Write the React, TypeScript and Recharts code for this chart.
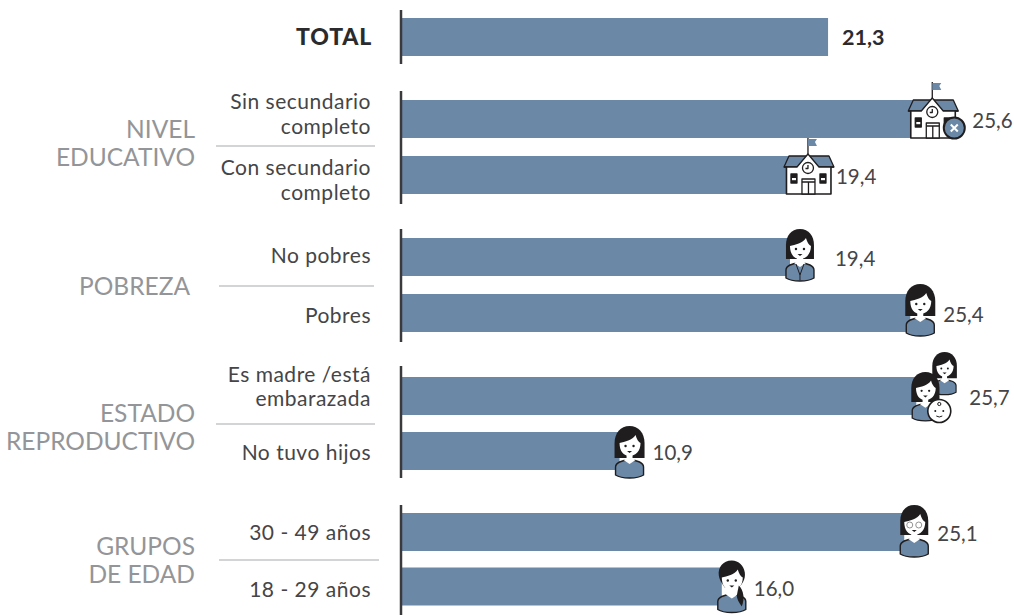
import React from "react";
import { BarChart, Bar, XAxis, YAxis, LabelList } from "recharts";

// filas de cada bloque, de arriba hacia abajo
const totalRows = ["TOTAL"];
const educacionRows = ["Sin secundario|completo", "Con secundario|completo"];
const pobrezaRows = ["No pobres", "Pobres"];
const reproductivoRows = ["Es madre /está|embarazada", "No tuvo hijos"];
const edadRows = ["30 - 49 años", "18 - 29 años"];

const totalValues = [21.3];
const educacionValues = [25.6, 19.4];
const pobrezaValues = [19.4, 25.4];
const reproductivoValues = [25.7, 10.9];
const edadValues = [25.1, 16.0];

const educacionTitle = ["NIVEL", "EDUCATIVO"];
const pobrezaTitle = ["POBREZA"];
const reproductivoTitle = ["ESTADO", "REPRODUCTIVO"];
const edadTitle = ["GRUPOS", "DE EDAD"];

const educacionIcons = ["schoolX", "school"];
const pobrezaIcons = ["suit", "plain"];
const reproductivoIcons = ["mother", "young"];
const edadIcons = ["glasses", "braid"];

const FONT = "Lato, 'Noto Sans', sans-serif";
const BAR = "#6c88a7";
const INK = "#1f1d1e";
const TEXT = "#454547";
const GREY = "#939598";
const AXIS_LEFT = 401;
const PX_PER_UNIT = 20.05;
const WIDTH = 1014;

const fmt = (v: number) => v.toFixed(1).replace(".", ",");

const School = ({ x, y, cross }: { x: number; y: number; cross?: boolean }) => (
    <g transform={`translate(${x},${y})`} stroke={INK} strokeWidth={1.3} strokeLinejoin="round">
        <path d="M24 8V-10" fill="none" />
        <path d="M24 -9H33L31 -6L33 -2H24Z" fill={BAR} stroke="none" />
        <path d="M0 19L5 8H45L50 19Z" fill={BAR} />
        <path d="M2.5 19V46H47V19" fill="#fff" strokeWidth={1.6} />
        <path d="M13 19L24 6L35 19V30H13Z" fill="#fff" stroke="none" />
        <path d="M0 19H13L24 6L35 19H50" fill="none" />
        <circle cx={24} cy={20} r={5.5} fill="#fff" />
        <path d="M24 17V20.5H21.5" fill="none" />
        <rect x={7} y={26} width={6} height={9} fill={INK} />
        <rect x={8} y={30} width={4} height={2.2} fill="#fff" stroke="none" />
        <rect x={36} y={26} width={6} height={9} fill={INK} />
        <rect x={37} y={30} width={4} height={2.2} fill="#fff" stroke="none" />
        <rect x={18} y={31} width={13} height={15} fill="#fff" />
        <path d="M18 34H31M24.5 34V46" fill="none" />
        {cross && (
            <g>
                <circle cx={46} cy={36} r={10.5} fill={BAR} stroke={INK} strokeWidth={2} />
                <path d="M42.5 32.5L49.5 39.5M49.5 32.5L42.5 39.5" stroke="#fff" strokeWidth={2} />
            </g>
        )}
    </g>
);

// silueta basica de mujer; las variantes cambian pelo y detalle
const Woman = ({ x, y, kind, s = 1 }: { x: number; y: number; kind: string; s?: number }) => {
    const shortHair = kind === "suit" || kind === "glasses";
    return (
        <g transform={`translate(${x},${y}) scale(${s})`}>
            <path d="M1 41C1 37 7 34 15 34C23 34 29 37 29 41V49C23 53 7 53 1 49Z" fill={BAR} stroke={INK} strokeWidth={1.4} />
            {kind === "braid" ? (
                <path d="M15 0C6 0 1 7 2 15C3 21 7 25 8 27H22C25 24 29 19 28 12C27 5 22 0 15 0Z" fill={INK} />
            ) : (
                <path
                    d={shortHair
                        ? "M15 0C6 0 1 7 1 16V30H29V16C29 7 24 0 15 0Z"
                        : "M15 0C6 0 0 7 0 17V32H30V17C30 7 24 0 15 0Z"}
                    fill={INK}
                />
            )}
            <path d="M5 17C10 16 18 14 21 9C22 13 24 16 26 17C26 25 21 30 15 30C9 30 5 25 5 17Z" fill="#fff" />
            <rect x={12} y={28} width={6} height={7} fill="#fff" />
            <path d="M9 34L15 38L21 34L15 31Z" fill="#fff" />
            <circle cx={11} cy={20} r={1.2} fill={INK} />
            <circle cx={19} cy={20} r={1.2} fill={INK} />
            <path d="M12.5 25H17.5L15 27Z" fill={INK} />
            {kind === "suit" && <path d="M11 35L15 46L19 35M15 46V51" fill="none" stroke={INK} strokeWidth={1} />}
            {kind === "glasses" && (
                <g fill="#fff" stroke="#888" strokeWidth={0.9}>
                    <circle cx={10.5} cy={20} r={3} />
                    <circle cx={19.5} cy={20} r={3} />
                </g>
            )}
            {kind === "braid" && <path d="M22 25C27 30 28 38 25 46C22 42 20 38 20 35Z" fill={INK} />}
        </g>
    );
};

const Mother = ({ x, y }: { x: number; y: number }) => (
    <g>
        <Woman x={x + 21} y={y - 20} kind="young" s={0.82} />
        <Woman x={x} y={y} kind="plain" s={0.94} />
        <circle cx={x + 28} cy={y + 39} r={11.5} fill="#fff" stroke={INK} strokeWidth={1.6} />
        <circle cx={x + 28} cy={y + 32} r={1.6} fill="none" stroke={INK} strokeWidth={1} />
        <circle cx={x + 24} cy={y + 39} r={1} fill={INK} />
        <circle cx={x + 32} cy={y + 39} r={1} fill={INK} />
        <path d="M25 44Q28 46 31 44" transform={`translate(${x},${y})`} fill="none" stroke={INK} strokeWidth={1} />
    </g>
);

// icono + valor al final de cada barra
const EndMark = (props: any, icons: string[] | undefined, gaps: number[], lifts: number[], bold: boolean) => {
    const { x, y, width, height, index, value } = props;
    const end = x + width;
    const mid = y + height / 2;
    const icon = icons?.[index];
    const school = icon === "school" || icon === "schoolX";
    return (
        <g>
            {school && <School x={end - 6} y={mid - 27} cross={icon === "schoolX"} />}
            {icon === "mother" && <Mother x={end - 5} y={mid - 24} />}
            {icon && !school && icon !== "mother" && <Woman x={end - 5} y={mid - lifts[index]} kind={icon} />}
            <text
                x={end + gaps[index]}
                y={mid + (bold ? 7.5 : 9)}
                fill={bold ? "#2b2b2d" : TEXT}
                fontFamily={FONT}
                fontSize={bold ? 21.5 : 20.5}
                fontWeight={bold ? 700 : 400}
            >
                {fmt(value)}
            </text>
        </g>
    );
};

const RowTick = (props: any, shifts: number[], bold: boolean) => {
    const { x, y, payload, index } = props;
    const lines = String(payload.value).split("|");
    const right = bold ? x + 1 : x;
    return (
        <text
            x={right}
            y={y + shifts[index]}
            textAnchor="end"
            fill={bold ? "#2b2b2d" : TEXT}
            fontFamily={FONT}
            fontSize={bold ? 23 : 21}
            fontWeight={bold ? 900 : 400}
            letterSpacing={bold ? 0.8 : 0.5}
        >
            {lines.map((l, i) => (
                <tspan key={i} x={right} dy={i === 0 ? 0 : 24.5}>{l}</tspan>
            ))}
        </text>
    );
};

const Block = (p: {
    rows: string[];
    values: number[];
    icons?: string[];
    gaps: number[];
    shifts: number[];
    lifts?: number[];
    top: number;
    height: number;
    padTop?: number;
    padBottom?: number;
    bold?: boolean;
}) => {
    const data = p.rows.map((name, i) => ({ name, value: p.values[i] }));
    return (
        <div style={{ position: "absolute", left: 0, top: p.top }}>
            <BarChart
                width={WIDTH}
                height={p.height}
                data={data}
                layout="vertical"
                margin={{ top: 0, right: 0, bottom: 0, left: 0 }}
            >
                <XAxis type="number" hide domain={[0, (WIDTH - AXIS_LEFT) / PX_PER_UNIT]} />
                <YAxis
                    type="category"
                    dataKey="name"
                    width={AXIS_LEFT}
                    interval={0}
                    axisLine={{ stroke: "#3a3a3c", strokeWidth: 2.5 }}
                    tickLine={false}
                    tickMargin={0}
                    tickSize={0}
                    padding={{ top: p.padTop ?? 0, bottom: p.padBottom ?? 0 }}
                    tick={(t: any) => RowTick({ ...t, x: 371 }, p.shifts, !!p.bold)}
                />
                <Bar dataKey="value" fill={BAR} barSize={38} isAnimationActive={false}>
                    <LabelList dataKey="value" content={(l: any) => EndMark(l, p.icons, p.gaps, p.lifts ?? [], !!p.bold)} />
                </Bar>
            </BarChart>
        </div>
    );
};

const GroupTitle = ({ lines, right, y }: { lines: string[]; right: number; y: number }) => (
    <text textAnchor="end" fill={GREY} fontFamily={FONT} fontSize={24.5} y={y}>
        {lines.map((l, i) => (
            <tspan key={i} x={right} dy={i === 0 ? 0 : 28}>{l}</tspan>
        ))}
    </text>
);

export default function App() {
    return (
        <div style={{ position: "absolute", left: 0, top: 0, width: WIDTH, height: 615, overflow: "hidden", background: "#fff" }}>
            <style>{`.recharts-surface { overflow: visible; }`}</style>
            <Block rows={totalRows} values={totalValues} gaps={[14]} shifts={[8]} top={10} height={54} bold />
            <Block rows={educacionRows} values={educacionValues} icons={educacionIcons} gaps={[58, 46]} shifts={[-10, 0]} top={91} height={113} padBottom={1} />
            <Block rows={pobrezaRows} values={pobrezaValues} icons={pobrezaIcons} gaps={[45, 33]} shifts={[6, 10]} lifts={[28, 29]} top={229} height={113} padBottom={1} />
            <Block rows={reproductivoRows} values={reproductivoValues} icons={reproductivoIcons} gaps={[53, 33]} shifts={[-14, 9]} lifts={[24, 25]} top={366} height={112} padTop={2} />
            <Block rows={edadRows} values={edadValues} icons={edadIcons} gaps={[33, 32]} shifts={[8, 10]} lifts={[27, 26]} top={505} height={110} padBottom={1} />
            <svg width={WIDTH} height={615} style={{ position: "absolute", left: 0, top: 0, pointerEvents: "none" }}>
                <GroupTitle lines={educacionTitle} right={195} y={138} />
                <GroupTitle lines={pobrezaTitle} right={190} y={295} />
                <GroupTitle lines={reproductivoTitle} right={195} y={422} />
                <GroupTitle lines={edadTitle} right={195} y={555} />
                <g stroke="#a7a9ac" strokeWidth={1}>
                    <line x1={216} x2={375} y1={146} y2={146} />
                    <line x1={219} x2={374} y1={286} y2={286} />
                    <line x1={216} x2={375} y1={424} y2={424} />
                    <line x1={219} x2={379} y1={560} y2={560} />
                </g>
            </svg>
        </div>
    );
}
